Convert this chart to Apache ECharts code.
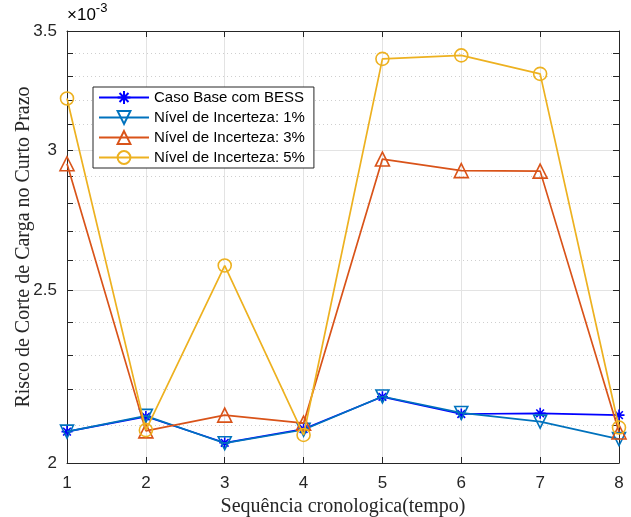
<!DOCTYPE html>
<html>
<head>
<meta charset="utf-8">
<script src="https://cdn.jsdelivr.net/npm/echarts@6/dist/echarts.min.js"></script>
<style>html,body{margin:0;padding:0;background:#fff;}#c{width:631px;height:517px;}</style>
</head>
<body>
<div id="c"></div>
<script>
// Values in units of 1e-3
const xValues = [1, 2, 3, 4, 5, 6, 7, 8];
const baseBESS = [2.083, 2.124, 2.053, 2.090, 2.179, 2.131, 2.133, 2.128];
const unc1 = [2.083, 2.126, 2.052, 2.088, 2.180, 2.134, 2.110, 2.063];
const unc3 = [2.947, 2.085, 2.128, 2.106, 2.965, 2.921, 2.919, 2.082];
const unc5 = [3.207, 2.087, 2.583, 2.074, 3.376, 3.391, 3.311, 2.094];
const seriesNames = ['Caso Base com BESS', 'Nível de Incerteza: 1%', 'Nível de Incerteza: 3%', 'Nível de Incerteza: 5%'];
const yMajorTicks = [2, 2.5, 3, 3.5];
const yMinorTicks = [2.1, 2.2, 2.3, 2.4, 2.6, 2.7, 2.8, 2.9, 3.1, 3.2, 3.3, 3.4];
const yAllTicks = [2, 2.1, 2.2, 2.3, 2.4, 2.5, 2.6, 2.7, 2.8, 2.9, 3, 3.1, 3.2, 3.3, 3.4, 3.5];

const colors = ['#0000FF', '#0072BD', '#D95319', '#EDB120'];
const pair = arr => arr.map((v, i) => [xValues[i], v]);
const asterisk = 'path://M5,0L5,10M0,5L10,5M1.5,1.5L8.5,8.5M1.5,8.5L8.5,1.5';
const axisColor = '#262626';
const sans = '"Liberation Sans", Arial, Helvetica, sans-serif';
const serif = '"Liberation Serif", "Times New Roman", serif';

const chart = echarts.init(document.getElementById('c'), null, {renderer: 'canvas'});
const mk = (idx, data, symbol, size, rotate) => ({
  name: seriesNames[idx], type: 'line', data: pair(data),
  symbol: symbol, symbolSize: size, symbolRotate: rotate || 0,
  showAllSymbol: true,
  lineStyle: {color: colors[idx], width: 1.7},
  itemStyle: {color: 'rgba(0,0,0,0)', borderColor: colors[idx], borderWidth: 1.6},
  emphasis: {disabled: true},
  z: 10 + idx,
  animation: false
});

chart.setOption({
  animation: false,
  grid: {left: 67, right: 12, top: 31, bottom: 54, containLabel: false, outerBoundsMode: 'none'},
  legend: {
    orient: 'vertical', left: 93, top: 87,
    data: seriesNames,
    backgroundColor: '#fff', borderColor: '#262626', borderWidth: 1,
    padding: [3, 9, 3, 5], itemGap: 5, itemWidth: 50, itemHeight: 16,
    textStyle: {fontFamily: sans, fontSize: 15, color: '#000'},
    selectedMode: false
  },
  graphic: [{
    type: 'text', left: 67, top: 2,
    style: {
      text: '{a|×10}{b|-3}',
      rich: {
        a: {fontFamily: sans, fontSize: 17, color: axisColor, padding: [8, 0, 0, 0]},
        b: {fontFamily: sans, fontSize: 13, color: axisColor, padding: [0, 0, 6, 0]}
      }
    }
  }],
  xAxis: [{
    type: 'value', min: 1, max: 8, interval: 1, position: 'bottom',
    name: 'Sequência cronologica(tempo)', nameLocation: 'middle', nameGap: 33,
    nameTextStyle: {fontFamily: serif, fontSize: 20, color: axisColor},
    axisLine: {show: true, onZero: false, lineStyle: {color: axisColor, width: 1}},
    axisTick: {show: true, inside: true, length: 6, lineStyle: {color: axisColor}},
    axisLabel: {fontFamily: sans, fontSize: 17, color: axisColor, margin: 12},
    splitLine: {show: true, lineStyle: {color: '#e3e3e3', width: 1}}
  }, {
    type: 'value', min: 1, max: 8, interval: 1, position: 'top',
    axisLine: {show: true, onZero: false, lineStyle: {color: axisColor, width: 1}},
    axisTick: {show: true, inside: true, length: 6, lineStyle: {color: axisColor}},
    axisLabel: {show: false}, splitLine: {show: false}
  }],
  yAxis: [{
    type: 'log', logBase: 10, min: 2, max: 3.5, position: 'left',
    name: 'Risco de Corte de Carga no Curto Prazo', nameLocation: 'middle', nameGap: 33,
    nameMoveOverlap: false,
    nameTextStyle: {fontFamily: serif, fontSize: 20, color: axisColor},
    axisLine: {show: true, onZero: false, lineStyle: {color: axisColor, width: 1}},
    axisTick: {show: true, inside: true, length: 6, customValues: yMajorTicks, lineStyle: {color: axisColor}},
    axisLabel: {fontFamily: sans, fontSize: 17, color: axisColor, margin: 10, customValues: yMajorTicks,
      formatter: v => String(Math.round(v * 10) / 10)},
    splitLine: {show: true, lineStyle: {color: '#e3e3e3', width: 1}}
  }, {
    type: 'log', logBase: 10, min: 2, max: 3.5, position: 'left',
    axisLine: {show: false},
    axisTick: {show: true, inside: true, length: 6, customValues: yMinorTicks, lineStyle: {color: axisColor}},
    axisLabel: {show: false},
    splitLine: {show: true, lineStyle: {color: '#cfcfcf', width: 1, type: [1, 3]}}
  }, {
    type: 'log', logBase: 10, min: 2, max: 3.5, position: 'right',
    axisLine: {show: true, onZero: false, lineStyle: {color: axisColor, width: 1}},
    axisTick: {show: true, inside: true, length: 6, customValues: yAllTicks, lineStyle: {color: axisColor}},
    axisLabel: {show: false}, splitLine: {show: false}
  }],
  series: [
    mk(0, baseBESS, asterisk, 11, 0),
    mk(1, unc1, 'triangle', 13, 180),
    mk(2, unc3, 'triangle', 14, 0),
    mk(3, unc5, 'circle', 13, 0)
  ]
});
</script>
</body>
</html>
